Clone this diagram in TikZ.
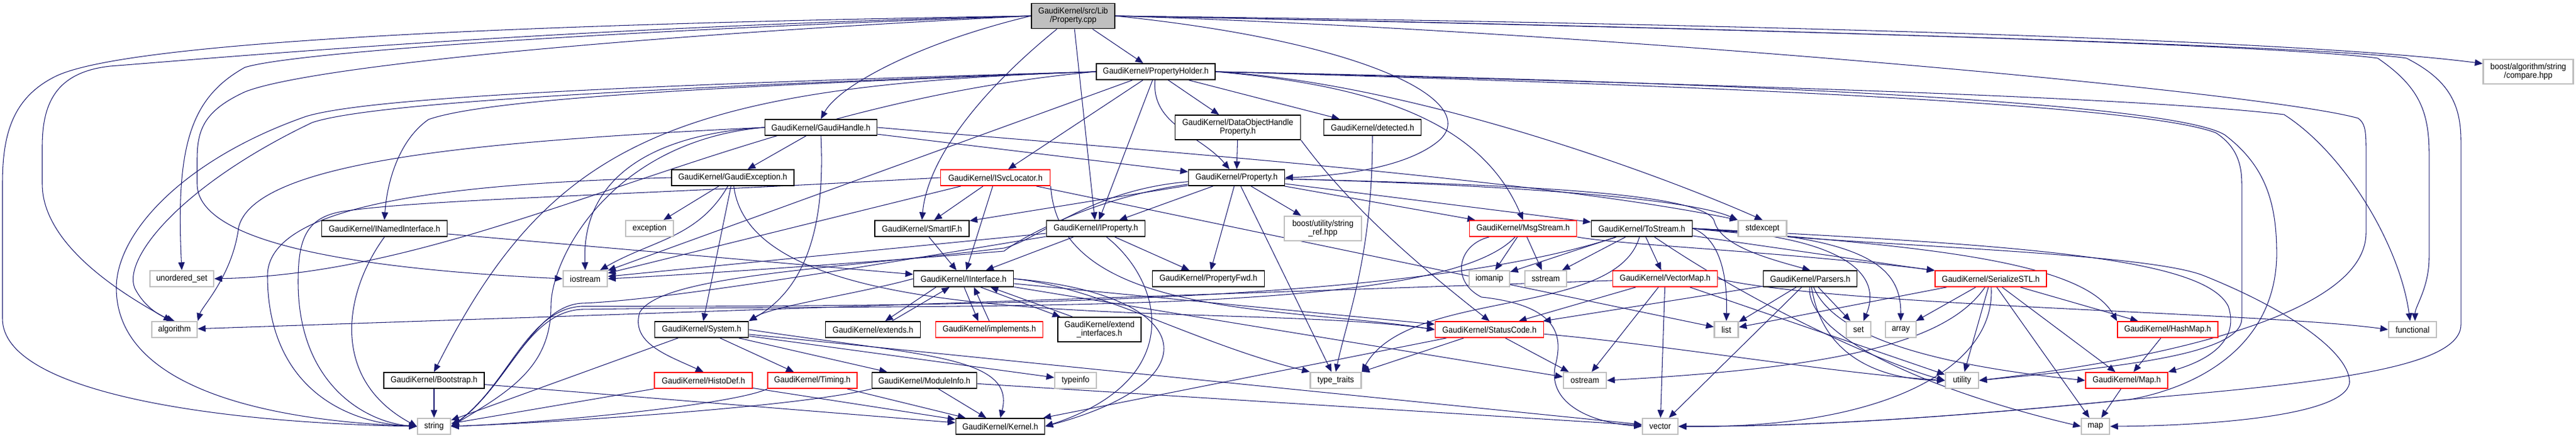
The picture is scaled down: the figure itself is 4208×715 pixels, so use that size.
\documentclass[tikz,border=0pt]{standalone}
\usepackage{fontspec}
\setmainfont{Liberation Sans}[FakeStretch=0.92]
\usepackage{tikz}
\usetikzlibrary{arrows.meta, positioning}
\usepackage{xcolor}

\definecolor{edgeblue}{HTML}{191970}
\definecolor{sysgray}{HTML}{BFBFBF}

\pgfdeclarelayer{edges}
\pgfsetlayers{edges,main}

\tikzset{
    hdr/.style={draw=black, line width=0.5pt, fill=white, inner sep=0pt, minimum height=0.26cm, align=center, font=\fontsize{4}{4.1}\selectfont},
    redhdr/.style={hdr, draw=red},
    syshdr/.style={hdr, draw=sysgray, line width=0.6pt},
    srchdr/.style={hdr, fill=sysgray},
    bw/.style={minimum width=#1*0.01cm},
    twoline/.style={minimum height=0.40cm},
    dep/.style={draw=edgeblue, line width=0.3pt, -{Triangle[length=3.6pt,width=3pt]}}
}

\begin{document}
\begin{tikzpicture}[x=0.01cm, y=-0.01cm]
            \useasboundingbox (0,0) rectangle (4208,715);

            \node[srchdr, bw=136, minimum height=0.41cm] (cpp) at (1753,26) {GaudiKernel/src/Lib\\/Property.cpp};
            \node[hdr, bw=194] (ph) at (1888,117) {GaudiKernel/PropertyHolder.h};
            \node[syshdr, bw=147, twoline] (bcmp) at (4130,117) {boost/algorithm/string\\/compare.hpp};

            \node[hdr, bw=183] (gh) at (1341,208) {GaudiKernel/GaudiHandle.h};
            \node[hdr, bw=205, twoline] (dohp) at (2022,208) {GaudiKernel/DataObjectHandle\\Property.h};
            \node[hdr, bw=159] (det) at (2242,208) {GaudiKernel/detected.h};

            \node[hdr, bw=200] (gex) at (1197,290) {GaudiKernel/GaudiException.h};
            \node[redhdr, bw=179] (svc) at (1626,290) {GaudiKernel/ISvcLocator.h};
            \node[hdr, bw=157] (prop) at (2020,290) {GaudiKernel/Property.h};

            \node[hdr, bw=205] (nif) at (628,373) {GaudiKernel/INamedInterface.h};
            \node[syshdr, bw=78] (exc) at (1061,373) {exception};
            \node[hdr, bw=154] (sif) at (1506,373) {GaudiKernel/SmartIF.h};
            \node[hdr, bw=161] (iprop) at (1790,373) {GaudiKernel/IProperty.h};
            \node[syshdr, bw=126, twoline] (sref) at (2161,373) {boost/utility/string\\\_ref.hpp};
            \node[redhdr, bw=175] (msg) at (2488,373) {GaudiKernel/MsgStream.h};
            \node[hdr, bw=165] (tos) at (2682,373) {GaudiKernel/ToStream.h};
            \node[syshdr, bw=79] (stdx) at (2879,373) {stdexcept};

            \node[syshdr, bw=104] (uset) at (297,455) {unordered\_set};
            \node[syshdr, bw=72] (ios) at (956,455) {iostream};
            \node[hdr, bw=163] (iif) at (1574,455) {GaudiKernel/IInterface.h};
            \node[hdr, bw=183] (pfwd) at (1974,455) {GaudiKernel/PropertyFwd.h};
            \node[syshdr, bw=66] (ioma) at (2433,455) {iomanip};
            \node[syshdr, bw=68] (sstr) at (2525,455) {sstream};
            \node[redhdr, bw=171] (vmap) at (2720,455) {GaudiKernel/VectorMap.h};
            \node[hdr, bw=153] (pars) at (2957,455) {GaudiKernel/Parsers.h};
            \node[redhdr, bw=182] (ser) at (3252,455) {GaudiKernel/SerializeSTL.h};

            \node[syshdr, bw=74] (algo) at (285,538) {algorithm};
            \node[hdr, bw=153] (sys) at (1146,538) {GaudiKernel/System.h};
            \node[hdr, bw=155] (ext) at (1426,538) {GaudiKernel/extends.h};
            \node[redhdr, bw=175] (impl) at (1616,538) {GaudiKernel/implements.h};
            \node[hdr, bw=136, twoline] (exti) at (1796,538) {GaudiKernel/extend\\\_interfaces.h};
            \node[redhdr, bw=177] (sc) at (2433,538) {GaudiKernel/StatusCode.h};
            \node[syshdr, bw=39] (lst) at (2820,538) {list};
            \node[syshdr, bw=40] (set) at (3036,538) {set};
            \node[syshdr, bw=50] (arr) at (3105,538) {array};
            \node[redhdr, bw=164] (hmap) at (3541,538) {GaudiKernel/HashMap.h};
            \node[syshdr, bw=78] (func) at (3941,538) {functional};

            \node[hdr, bw=164] (boot) at (709,621) {GaudiKernel/Bootstrap.h};
            \node[redhdr, bw=160] (hdef) at (1149,621) {GaudiKernel/HistoDef.h};
            \node[redhdr, bw=146] (tim) at (1327,621) {GaudiKernel/Timing.h};
            \node[hdr, bw=171] (minfo) at (1510,621) {GaudiKernel/ModuleInfo.h};
            \node[syshdr, bw=68] (tinfo) at (1757,621) {typeinfo};
            \node[syshdr, bw=83] (ttr) at (2182,621) {type\_traits};
            \node[syshdr, bw=70] (ost) at (2589,621) {ostream};
            \node[syshdr, bw=54] (util) at (3205,621) {utility};
            \node[redhdr, bw=134] (gmap) at (3474,621) {GaudiKernel/Map.h};

            \node[syshdr, bw=54] (str) at (709,696) {string};
            \node[hdr, bw=145] (kern) at (1634,696) {GaudiKernel/Kernel.h};
            \node[syshdr, bw=58] (vec) at (2712,696) {vector};
            \node[syshdr, bw=46] (map) at (3423,696) {map};

            \begin{pgfonlayer}{edges}
            \draw[dep] (cpp) -- (ph);
            \draw[dep] (cpp.west) .. controls (1500,70) and (1370,140) .. (gh.north);
            \draw[dep] (cpp) .. controls (1600,150) and (1515,260) .. (sif.north);
            \draw[dep] (cpp) -- (iprop);
            \draw[dep] (cpp.east) .. controls (2250,70) and (2420,170) .. (2350,230) .. controls (2290,280) and (2160,288) .. (prop.east);
            \draw[dep] (cpp.west) .. controls (800,40) and (200,70) .. (90,125) .. controls (20,160) and (4,220) .. (4,300) -- (4,520) .. controls (4,640) and (350,690) .. (str.west);
            \draw[dep] (cpp.west) .. controls (900,45) and (350,95) .. (180,108) .. controls (90,118) and (69,170) .. (69,240) -- (69,300) .. controls (69,400) and (200,480) .. (algo.110);
            \draw[dep] (cpp.west) .. controls (1000,50) and (480,85) .. (400,110) .. controls (310,160) and (287,240) .. (uset.north);
            \draw[dep] (cpp.west) .. controls (1000,60) and (500,110) .. (400,150) .. controls (335,180) and (322,210) .. (322,260) -- (322,300) .. controls (322,400) and (600,440) .. (ios.west);
            \draw[dep] (cpp.east) .. controls (3000,40) and (3800,70) .. (bcmp.170);
            \draw[dep] (cpp.east) .. controls (2600,40) and (3700,70) .. (3884,95) .. controls (3950,140) and (3968,180) .. (3968,250) -- (3968,420) .. controls (3968,470) and (3945,500) .. ([xshift=0.04cm]func.north);
            \draw[dep] (cpp.east) .. controls (2800,45) and (3800,75) .. (3931,95) .. controls (4000,130) and (4020,170) .. (4020,230) -- (4020,530) .. controls (4020,600) and (3800,625) .. (3480,652) .. controls (3100,690) and (2900,696) .. (vec.east);
            \draw[dep] (cpp.east) .. controls (2600,50) and (3700,150) .. (3852,193) .. controls (3862,200) and (3865,210) .. (3865,240) -- (3865,380) .. controls (3865,520) and (3500,590) .. (util.east);

            \draw[dep] (ph) -- (svc);
            \draw[dep] (ph) -- (iprop);
            \draw[dep] (ph) to[out=-95,in=130] (prop);
            \draw[dep] (ph) -- (dohp);
            \draw[dep] (ph) -- (det);
            \draw[dep] (ph.east) .. controls (2250,140) and (2420,200) .. (msg.north);
            \draw[dep] (ph.east) .. controls (2300,135) and (2700,280) .. (stdx.north);
            \draw[dep] (ph.west) .. controls (1200,140) and (800,160) .. (700,195) .. controls (650,230) and (632,300) .. (nif.north);
            \draw[dep] (ph.west) .. controls (1000,140) and (600,160) .. (500,190) .. controls (300,260) and (190,380) .. (190,470) .. controls (190,620) and (400,685) .. (str.west);
            \draw[dep] (ph.west) .. controls (1000,145) and (600,170) .. (510,200) .. controls (300,300) and (200,420) .. (220,470) .. controls (235,500) and (260,515) .. (algo.north);
            \draw[dep] (ph.west) .. controls (1200,170) and (800,445) .. (uset.east);
            \draw[dep] (ph) -- (ios);
            \draw[dep] (ph.west) .. controls (1100,140) and (900,230) .. (boot.north);
            \draw[dep] (ph.east) .. controls (2900,140) and (3500,160) .. (3731,187) .. controls (3830,250) and (3920,400) .. ([xshift=-0.04cm]func.north);
            \draw[dep] (ph.east) .. controls (2900,135) and (3550,170) .. (3634,220) .. controls (3700,270) and (3720,330) .. (3719,420) .. controls (3715,560) and (3600,630) .. (3480,652) .. controls (3100,690) and (2900,696) .. (vec.east);
            \draw[dep] (ph.east) .. controls (2800,140) and (3500,170) .. (3620,217) .. controls (3655,240) and (3662,270) .. (3662,300) -- (3662,520) .. controls (3662,580) and (3450,600) .. (util.east);

            \draw[dep] (gh) -- (gex);
            \draw[dep] (gh) -- (prop);
            \draw[dep] (gh.south) .. controls (1350,400) and (1300,480) .. (sys.north east);
            \draw[dep] (gh.west) .. controls (800,230) and (420,260) .. (390,370) .. controls (380,450) and (330,500) .. (algo.north east);
            \draw[dep] (gh.west) .. controls (1050,220) and (950,300) .. (ios.north);
            \draw[dep] (gh.west) .. controls (1000,230) and (900,420) .. (900,500) .. controls (900,600) and (830,640) .. (str.east);
            \draw[dep] (gh.east) .. controls (1800,240) and (2500,290) .. (stdx.north west);

            \draw[dep] (gex) -- (exc);
            \draw[dep] (gex) -- (sys);
            \draw[dep] (gex) to[out=-120,in=30] (ios);
            \draw[dep] (gex.west) .. controls (700,300) and (437,340) .. (437,450) .. controls (437,620) and (550,690) .. (str.west);
            \draw[dep] (gex) .. controls (1230,560) and (2000,490) .. (sc.west);

            \draw[dep] (svc) -- (sif);
            \draw[dep] (svc) -- (iif);
            \draw[dep] (svc.south east) .. controls (1730,520) and (2100,500) .. (sc.west);
            \draw[dep] (svc.west) .. controls (1000,320) and (700,325) .. (560,345) .. controls (500,355) and (487,390) .. (487,460) .. controls (487,630) and (600,690) .. (str.west);
            \draw[dep] (svc) -- (ios);
            \draw[dep] (svc) -- (lst);

            \draw[dep] (nif) -- (iif);
            \draw[dep] (nif.south) .. controls (560,480) and (540,620) .. (str.west);
            \draw[dep] (sif) -- (iif);

            \draw[dep] (iprop) -- (iif);
            \draw[dep] (iprop) -- (pfwd);
            \draw[dep] (iprop) .. controls (1900,460) and (1940,620) .. (kern.east);
            \draw[dep] (iprop) -- (ios);
            \draw[dep] (iprop) .. controls (1500,420) and (1100,490) .. (950,495) .. controls (870,500) and (830,630) .. (str.east);

            \draw[dep] (prop) -- (sif);
            \draw[dep] (prop) -- (iprop);
            \draw[dep] (prop) -- (pfwd);
            \draw[dep] (prop) -- (sref);
            \draw[dep] (prop) -- (tos);
            \draw[dep] (prop) -- (msg);
            \draw[dep] (prop) .. controls (2400,300) and (2750,320) .. (stdx.north west);
            \draw[dep] (prop) .. controls (2400,300) and (2780,310) .. (2800,360) .. controls (2810,400) and (2880,420) .. (pars.north);
            \draw[dep] (prop) -- (ttr);
            \draw[dep] (prop) .. controls (1800,320) and (1680,380) .. (1640,410) .. controls (1400,430) and (1100,450) .. (ios.east);
            \draw[dep] (prop) .. controls (1780,310) and (1700,390) .. (1640,405) .. controls (1350,440) and (1080,450) .. (1045,510) .. controls (1030,560) and (1090,580) .. (hdef.north);

            \draw[dep] (dohp) -- (prop);
            \draw[dep] (dohp.south east) .. controls (2200,330) and (2300,420) .. (sc.north);
            \draw[dep] (det.south) .. controls (2242,420) and (2200,520) .. (ttr.north);

            \draw[dep] (tos) -- (ioma);
            \draw[dep] (tos) -- (sstr);
            \draw[dep] (tos) -- (vmap);
            \draw[dep] (tos) .. controls (2640,520) and (2300,470) .. (ttr.north east);
            \draw[dep] (tos) -- (ser);
            \draw[dep] (tos.east) .. controls (2810,390) and (2822,450) .. (lst.north);
            \draw[dep] (tos.east) .. controls (3020,385) and (3075,450) .. ([xshift=0.08cm]set.north);
            \draw[dep] (tos.east) .. controls (3060,385) and (3105,440) .. (arr.north);
            \draw[dep] (tos.east) .. controls (3000,400) and (3500,410) .. (3600,450) .. controls (3750,510) and (3840,580) .. (3838,625) .. controls (3830,680) and (3600,695) .. (map.east);
            \draw[dep] (tos.east) .. controls (3100,400) and (3400,420) .. (hmap.north west);
            \draw[dep] (tos.east) .. controls (3300,400) and (3600,420) .. (3640,500) .. controls (3660,560) and (3600,590) .. (gmap.north east);
            \draw[dep] (tos) .. controls (2300,500) and (1500,500) .. (950,500) .. controls (860,505) and (830,630) .. (str.east);
            \draw[dep] (tos) .. controls (2900,520) and (3100,600) .. (util.west);

            \draw[dep] (msg) -- (ioma);
            \draw[dep] (msg) -- (sstr);
            \draw[dep] (msg) .. controls (2380,400) and (2370,460) .. (2420,485) .. controls (2560,500) and (2550,560) .. (2540,600) .. controls (2530,660) and (2600,690) .. (vec.west);
            \draw[dep] (msg.south east) .. controls (2650,400) and (2900,410) .. (ser.north west);
            \draw[dep] (msg) .. controls (2350,520) and (1600,495) .. (950,505) .. controls (860,510) and (830,630) .. (str.east);

            \draw[dep] (vmap) -- (algo);
            \draw[dep] (vmap) -- (sc);
            \draw[dep] (vmap) -- (ost);
            \draw[dep] (vmap) -- (vec);
            \draw[dep] (vmap) -- (util);
            \draw[dep] (vmap.east) .. controls (3000,500) and (3700,510) .. (func.west);

            \draw[dep] (pars) -- (lst);
            \draw[dep] (pars) -- (set);
            \draw[dep] (pars) .. controls (2950,560) and (3200,650) .. (map.west);
            \draw[dep] (pars) .. controls (3000,560) and (3200,600) .. (gmap.west);
            \draw[dep] (pars) -- (vec);
            \draw[dep] (pars) -- (sc);
            \draw[dep] (pars) .. controls (2980,600) and (3100,620) .. (util.west);

            \draw[dep] (ser) -- (lst);
            \draw[dep] (ser) -- (arr);
            \draw[dep] (ser) .. controls (3180,560) and (3000,600) .. (ost.east);
            \draw[dep] (ser) -- (util);
            \draw[dep] (ser) .. controls (3260,600) and (3080,700) .. (vec.east);
            \draw[dep] (ser) -- (map);
            \draw[dep] (ser) -- (gmap);
            \draw[dep] (ser) -- (hmap);
            \draw[dep] (hmap) -- (gmap);
            \draw[dep] (gmap) -- (map);

            \draw[dep] ([xshift=-0.45cm]iif.south) -- ([xshift=0.2cm]ext.north);
            \draw[dep] ([xshift=0.31cm]ext.north) -- ([xshift=-0.23cm]iif.south);
            \draw[dep] ([xshift=0.01cm]iif.south) -- ([xshift=-0.18cm]impl.north);
            \draw[dep] (impl.north) -- ([xshift=0.17cm]iif.south);
            \draw[dep] ([xshift=0.28cm]iif.south) -- ([xshift=-0.64cm]exti.north);
            \draw[dep] ([xshift=-0.44cm]exti.north) -- ([xshift=0.44cm]iif.south);
            \draw[dep] (iif.west) .. controls (1400,480) and (1260,500) .. (sys.north east);
            \draw[dep] (iif.east) .. controls (1950,480) and (1990,620) .. (kern.east);
            \draw[dep] (iif) -- (sc);
            \draw[dep] (iif) -- (ost);
            \draw[dep] (iif.east) .. controls (1800,470) and (1950,560) .. (ttr.north west);

            \draw[dep] (sys) -- (str);
            \draw[dep] (sys) -- (tim);
            \draw[dep] (sys) -- (minfo);
            \draw[dep] (sys.east) .. controls (1500,580) and (1660,580) .. (kern.north);
            \draw[dep] (sys) -- (tinfo);
            \draw[dep] (sys) -- (vec);

            \draw[dep] (hdef) -- (str);
            \draw[dep] (hdef) -- (kern);
            \draw[dep] (tim) -- (kern);
            \draw[dep] (tim.south west) .. controls (1200,660) and (900,690) .. (str.east);
            \draw[dep] (minfo) -- (kern);
            \draw[dep] (minfo.south west) .. controls (1300,665) and (900,690) .. (str.east);
            \draw[dep] (minfo) -- (vec);
            \draw[dep] (boot) -- (str);
            \draw[dep] (boot) -- (kern);
            \draw[dep] (sc) -- (ttr);
            \draw[dep] (sc) -- (ost);
            \draw[dep] (sc) -- (kern);
            \draw[dep] (sc) .. controls (2700,560) and (3000,610) .. (util.west);
            \end{pgfonlayer}
        \end{tikzpicture}
\end{document}
